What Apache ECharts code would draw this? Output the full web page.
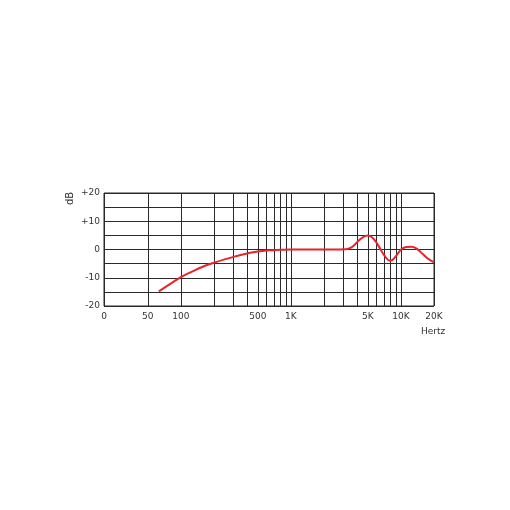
<!DOCTYPE html>
<html>
<head>
<meta charset="utf-8">
<script src="https://cdn.jsdelivr.net/npm/echarts@6/dist/echarts.min.js"></script>
<style>
  html, body { margin: 0; padding: 0; background: #fff; }
  #chart { width: 510px; height: 510px; }
</style>
</head>
<body>
<div id="chart"></div>
<script>
// frequency response (Hz, dB)
var freqs = [63, 80, 100, 125, 160, 200, 250, 315, 400, 500, 630, 800, 1000, 1600, 2500, 3150, 3600, 4000, 4500, 5000, 5600, 6300, 7100, 8000, 9000, 10000, 11200, 12500, 14000, 16000, 18000, 20000]
var levels = [-14.8, -12.2, -9.8, -7.9, -6, -4.7, -3.5, -2.4, -1.4, -0.7, -0.3, -0.1, 0, 0, 0, 0.1, 0.9, 2.6, 4.3, 5, 3.9, 1.1, -2.2, -4, -2.4, -0.1, 0.9, 1, 0.2, -1.8, -3.5, -4.5]
// vertical grid lines and x tick labels
var gridFreqs = [20, 50, 100, 200, 300, 400, 500, 600, 700, 800, 900, 1000, 2000, 3000, 4000, 5000, 6000, 7000, 8000, 9000, 10000, 20000]
var labelFreqs = [20, 50, 100, 500, 1000, 5000, 10000, 20000]
var labelTexts = ['0', '50', '100', '500', '1K', '5K', '10K', '20K']

var chart = echarts.init(document.getElementById('chart'))

var lineColor = '#2a2a2a'
var markData = gridFreqs.map(function (f) {
  var i = labelFreqs.indexOf(f)
  return {
    xAxis: f,
    label: i >= 0 ? { show: true, formatter: labelTexts[i] } : { show: false }
  }
})

var option = {
  backgroundColor: '#fff',
  textStyle: { fontFamily: 'DejaVu Sans' },
  grid: {
    left: 104,
    top: 193,
    width: 330,
    height: 113,
    show: true,
    borderColor: lineColor,
    borderWidth: 1
  },
  xAxis: {
    type: 'log',
    logBase: 10,
    min: 20,
    max: 20000,
    axisLine: { show: false },
    axisTick: { show: false },
    axisLabel: { show: false },
    splitLine: { show: false },
    minorSplitLine: { show: false }
  },
  yAxis: {
    type: 'value',
    min: -20,
    max: 20,
    interval: 5,
    axisLine: { show: false },
    axisTick: { show: false },
    axisLabel: {
      margin: 4,
      fontSize: 9,
      color: '#333',
      formatter: function (v) {
        if (v % 10 !== 0) return ''
        return v > 0 ? '+' + v : String(v)
      }
    },
    splitLine: { show: true, lineStyle: { color: lineColor, width: 1 } }
  },
  graphic: [
    {
      type: 'text',
      x: 65,
      y: 205,
      rotation: Math.PI / 2,
      style: { text: 'dB', fontSize: 10, fill: '#333', fontFamily: 'DejaVu Sans' }
    },
    {
      type: 'text',
      x: 421,
      y: 327,
      style: { text: 'Hertz', fontSize: 9, fill: '#333', fontFamily: 'DejaVu Sans' }
    }
  ],
  series: [
    {
      type: 'line',
      data: [],
      silent: true,
      markLine: {
        silent: true,
        symbol: 'none',
        animation: false,
        lineStyle: { color: lineColor, width: 1, type: 'solid' },
        label: {
          position: 'start',
          distance: 6,
          fontSize: 9,
          color: '#333'
        },
        data: markData
      }
    },
    {
      name: 'response',
      type: 'line',
      smooth: 0.5,
      showSymbol: false,
      animation: false,
      data: freqs.map(function (f, i) { return [f, levels[i]] }),
      lineStyle: { color: '#e8232a', width: 2 },
      z: 5
    }
  ]
}
chart.setOption(option)
</script>
</body>
</html>
